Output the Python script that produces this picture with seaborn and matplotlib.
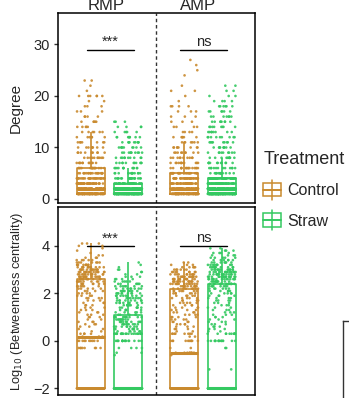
import numpy as np
import pandas as pd
import seaborn as sns
import matplotlib.pyplot as plt
import matplotlib.transforms as mtrans
from matplotlib.legend_handler import HandlerBase
from matplotlib.lines import Line2D
from matplotlib.patches import Rectangle

sns.set_style('white')
plt.rcParams['font.family'] = ['Liberation Sans', 'DejaVu Sans']

# -------------------------------
# data
# -------------------------------
groups = ['RMP', 'AMP']
treatments = ['Control', 'Straw']
colors = {'Control': '#C98A2E', 'Straw': '#34C961'}

# degree: number of nodes at each integer degree 1..28
degree_levels = [1, 2, 3, 4, 5, 6, 7, 8, 9, 10, 11, 12, 13, 14,
                 15, 16, 17, 18, 19, 20, 21, 22, 23, 24, 25, 26, 27, 28]
deg_rmp_control = [130, 70, 40, 30, 22, 16, 12, 10, 9, 8, 7, 6, 6, 5,
                   5, 4, 3, 3, 2, 6, 1, 1, 2, 0, 0, 0, 0, 0]
deg_rmp_straw = [200, 110, 40, 20, 14, 12, 11, 10, 10, 9, 9, 8, 5, 4,
                 3, 0, 0, 0, 0, 0, 0, 0, 0, 0, 0, 0, 0, 0]
deg_amp_control = [125, 80, 45, 35, 25, 15, 12, 10, 9, 8, 7, 6, 4, 4,
                   3, 3, 3, 4, 1, 1, 2, 1, 0, 1, 1, 1, 1, 0]
deg_amp_straw = [200, 100, 60, 70, 15, 12, 11, 10, 9, 9, 9, 9, 8, 8,
                 8, 7, 6, 6, 4, 3, 2, 2, 0, 0, 0, 0, 0, 0]

# log10 betweenness: number of nodes at each level
btw_levels = [-2.0, -1.2, -0.6, -0.5, -0.3, 0.0, 0.18,
              0.3, 0.4, 0.5, 0.6, 0.7, 0.8, 0.9, 1.0, 1.1, 1.2, 1.3, 1.4, 1.5,
              1.6, 1.7, 1.8, 1.9, 2.0, 2.1, 2.2, 2.3, 2.4, 2.5, 2.6, 2.7, 2.8,
              2.9, 3.0, 3.1, 3.2, 3.3, 3.4, 3.5, 3.6, 3.7, 3.8, 3.9, 4.0, 4.1]
btw_rmp_control = [180, 0, 0, 0, 8, 10, 3,
                   4, 2, 2, 2, 3, 3, 2, 3, 3, 3, 3, 3, 3,
                   3, 3, 4, 4, 4, 4, 5, 6, 8, 9, 12, 13, 14,
                   14, 13, 11, 9, 7, 5, 3, 2, 1, 1, 1, 2, 3]
btw_rmp_straw = [240, 0, 1, 2, 4, 16, 0,
                 22, 6, 8, 8, 9, 10, 10, 10, 5, 5, 5, 6, 7,
                 8, 8, 9, 9, 9, 8, 8, 7, 6, 5, 4, 3, 2,
                 2, 2, 1, 1, 1, 0, 0, 0, 0, 0, 0, 0, 0]
btw_amp_control = [200, 0, 1, 8, 2, 10, 2,
                   8, 2, 3, 3, 4, 4, 4, 4, 4, 4, 4, 4, 4,
                   5, 5, 5, 5, 6, 7, 8, 12, 14, 15, 14, 12, 10,
                   8, 6, 5, 3, 2, 0, 0, 0, 0, 0, 0, 0, 0]
btw_amp_straw = [300, 2, 0, 0, 2, 14, 0,
                 10, 2, 3, 3, 3, 3, 3, 3, 3, 3, 3, 3, 3,
                 3, 4, 4, 4, 5, 5, 6, 8, 12, 12, 14, 16, 16,
                 15, 13, 11, 9, 7, 6, 5, 4, 4, 3, 2, 0, 0]


def long_table(levels, parts, col):
    frames = []
    for g, t, counts in parts:
        vals = np.repeat(levels, counts)
        frames.append(pd.DataFrame({'Group': g, 'Treatment': t, col: vals}))
    return pd.concat(frames, ignore_index=True)


deg = long_table(degree_levels, [('RMP', 'Control', deg_rmp_control),
                                 ('RMP', 'Straw', deg_rmp_straw),
                                 ('AMP', 'Control', deg_amp_control),
                                 ('AMP', 'Straw', deg_amp_straw)], 'Degree')
btw = long_table(btw_levels, [('RMP', 'Control', btw_rmp_control),
                              ('RMP', 'Straw', btw_rmp_straw),
                              ('AMP', 'Control', btw_amp_control),
                              ('AMP', 'Straw', btw_amp_straw)], 'Betweenness')

# -------------------------------
# figure
# -------------------------------
np.random.seed(3)
fig = plt.figure(figsize=(3.49, 3.98), dpi=100)
ax1 = fig.add_axes([0.1648, 0.4907, 0.5659, 0.4774])
ax2 = fig.add_axes([0.1648, 0.0063, 0.5659, 0.4744])


def draw_panel(ax, df, col, ylim, yticks):
    sns.stripplot(data=df, x='Group', y=col, hue='Treatment', order=groups,
                  hue_order=treatments, palette=colors, dodge=True, jitter=0.3,
                  size=1.9, linewidth=0, alpha=0.9, legend=False, ax=ax)
    sns.boxplot(data=df, x='Group', y=col, hue='Treatment', order=groups,
                hue_order=treatments, palette=colors, fill=False, width=0.8,
                gap=0.25, showfliers=False, showcaps=False, linewidth=1.2,
                medianprops={'linewidth': 2.2}, legend=False, ax=ax)
    ax.axvline(0.5, color='#333333', linestyle=(0, (2.5, 2)), linewidth=1)
    ax.set_xlim(-0.555, 1.557)
    ax.set_ylim(*ylim)
    ax.set_xticks([])
    ax.set_yticks(yticks)
    ax.set_xlabel('')
    ax.tick_params(axis='y', left=True, length=3, width=1, color='#333333',
                   labelsize=10.5, pad=2.5)
    for s in ax.spines.values():
        s.set_color('black')
        s.set_linewidth(1.1)


draw_panel(ax1, deg, 'Degree', (-0.72, 36.17), [0, 10, 20, 30])
draw_panel(ax2, btw, 'Betweenness', (-2.30, 5.65), [-2, 0, 2, 4])

ax1.set_ylabel('Degree', fontsize=11)
ax1.yaxis.set_label_coords(-0.175, 0.5)
ax2.set_ylabel('Log$_{10}$ (Betweenness centrality)', fontsize=9.3)
ax2.yaxis.set_label_coords(-0.165, 0.5)

# facet titles
tr = mtrans.blended_transform_factory(ax1.transData, ax1.transAxes)
ax1.text(-0.04, 1.014, 'RMP', transform=tr, ha='center', va='baseline', fontsize=12)
ax1.text(0.95, 1.014, 'AMP', transform=tr, ha='center', va='baseline', fontsize=12)

# significance brackets
for ax, y, labels, dy in [(ax1, 28.9, ['***', 'ns'], 0.2), (ax2, 3.99, ['***', 'ns'], 0.03)]:
    for c, lab in zip([0, 1], labels):
        ax.plot([c - 0.24, c + 0.26], [y, y], color='black', linewidth=1)
        ax.text(c + 0.01, y + dy, lab, ha='center', va='bottom', fontsize=10.5)


# legend with boxplot keys
class BoxKey(HandlerBase):
    def create_artists(self, legend, orig_handle, xdescent, ydescent,
                       width, height, fontsize, trans):
        c = orig_handle.get_color()
        x0, y0 = -xdescent, -ydescent
        box = Rectangle((x0, y0), width, height, fill=False, ec=c, lw=1.1,
                        transform=trans)
        vl = Line2D([x0 + width / 2] * 2, [y0 - height * 0.25, y0 + height * 1.25],
                    color=c, lw=1.1, transform=trans)
        ml = Line2D([x0, x0 + width], [y0 + height / 2] * 2, color=c, lw=1.4,
                    transform=trans)
        return [box, vl, ml]


handles = [Line2D([], [], color=colors[t]) for t in treatments]
fig.legend(handles, treatments, title='Treatment', loc='upper left',
           bbox_to_anchor=(263.3 / 349, 1 - 151 / 398), frameon=False,
           handler_map={Line2D: BoxKey()}, handlelength=1.1, handleheight=0.9,
           handletextpad=0.4, labelspacing=0.95, borderpad=0, borderaxespad=0,
           fontsize=11.5, title_fontsize=13, alignment='left')

# corner of the neighbouring panel
frag = fig.add_axes([343.3 / 349, 0, 0.05, (398 - 320.7) / 398])
frag.set_xticks([])
frag.set_yticks([])
frag.patch.set_alpha(0)
for k, s in frag.spines.items():
    s.set_visible(k in ('left', 'top'))
    s.set_color('#333333')
    s.set_linewidth(1)

fig.savefig('out.png', dpi=100)
